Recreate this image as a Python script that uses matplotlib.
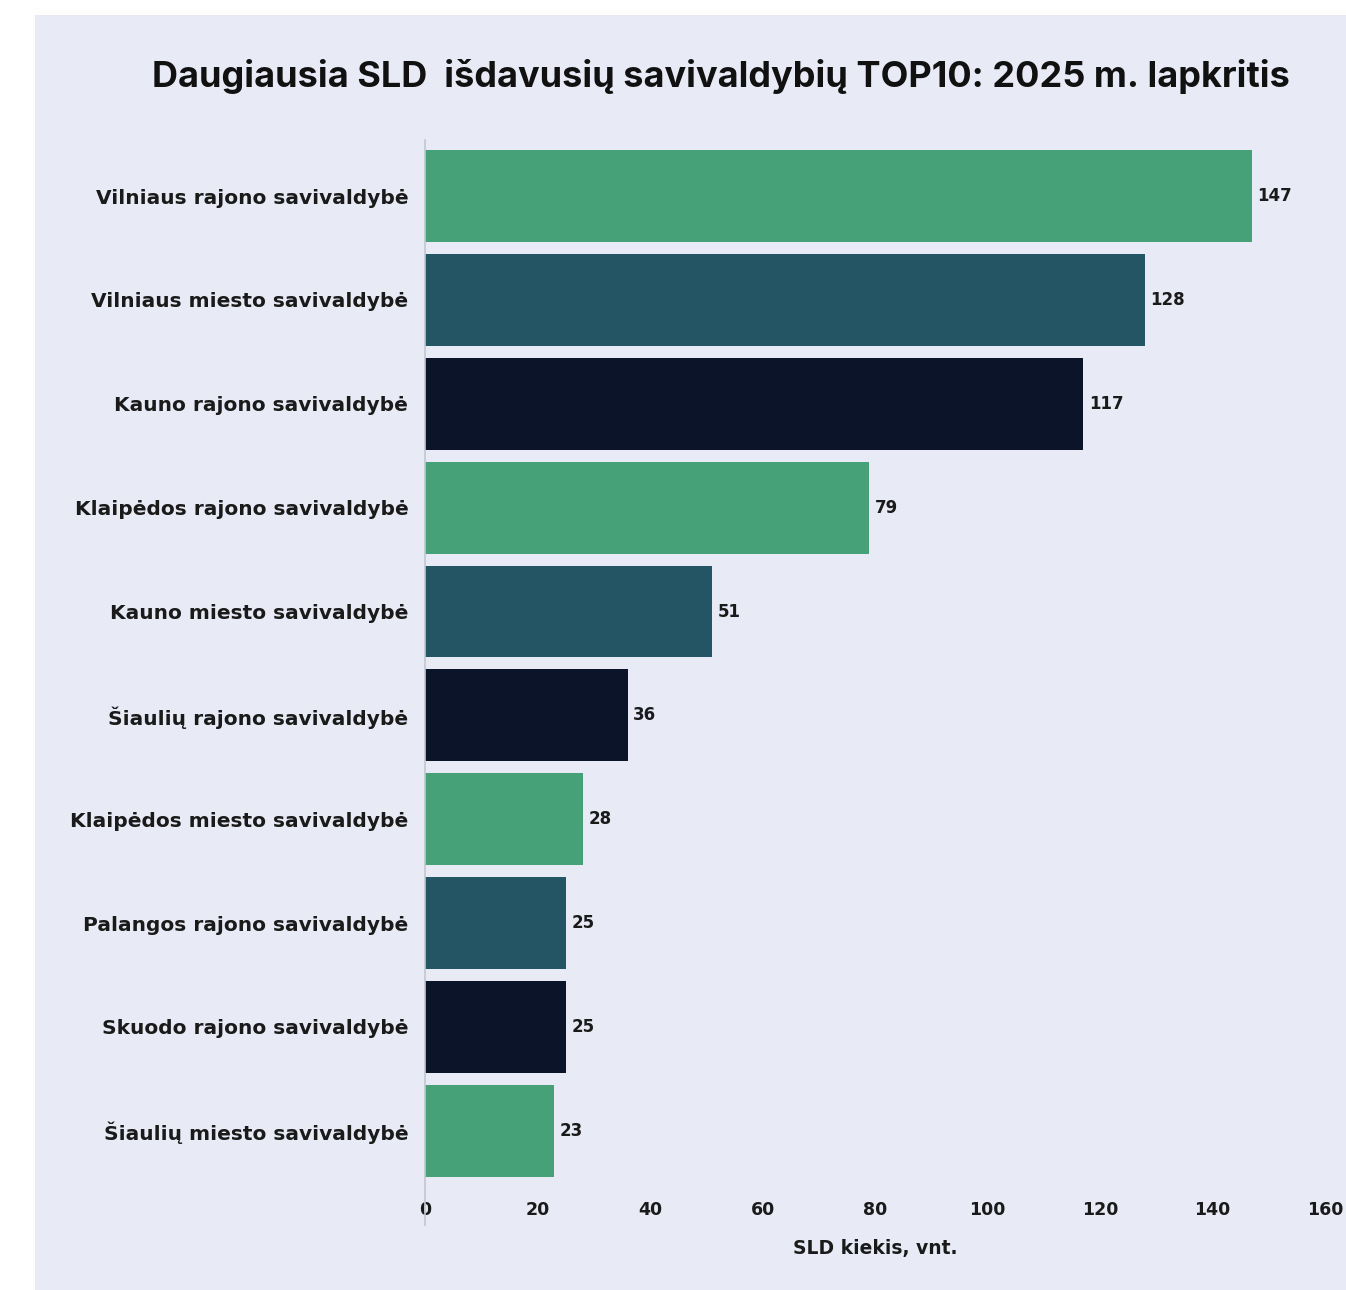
#!/usr/bin/env python3
"""TOP10 savivaldybiu pagal isduotas SLD - 2025 m. lapkritis"""

import matplotlib
matplotlib.use('Agg')
import matplotlib.pyplot as plt

# Data
municipalities = [
    'Vilniaus rajono savivaldybė',
    'Vilniaus miesto savivaldybė',
    'Kauno rajono savivaldybė',
    'Klaipėdos rajono savivaldybė',
    'Kauno miesto savivaldybė',
    'Šiaulių rajono savivaldybė',
    'Klaipėdos miesto savivaldybė',
    'Palangos rajono savivaldybė',
    'Skuodo rajono savivaldybė',
    'Šiaulių miesto savivaldybė',
]
sld_counts = [147, 128, 117, 79, 51, 36, 28, 25, 25, 23]
x_ticks = [0, 20, 40, 60, 80, 100, 120, 140, 160]

palette = ['#46A078', '#245564', '#0B1428']
bg = '#E8EBF6'
txt = '#1a1a1a'

plt.rcParams['font.family'] = ['DejaVu Sans']
plt.rcParams['font.weight'] = 'bold'

W, H = 1346, 1290
fig = plt.figure(figsize=(W / 100, H / 100), dpi=100)
fig.patch.set_facecolor('white')

# lavender panel behind everything (white strip left and top)
bg_ax = fig.add_axes([35 / W, 0, 1 - 35 / W, 1 - 15 / H], zorder=-1)
bg_ax.axis('off')
bg_ax.add_patch(plt.Rectangle((0, 0), 1, 1, transform=bg_ax.transAxes,
                              facecolor=bg, edgecolor='none'))

# axes box in pixels: left 425, right 1325, top 140, bottom 1190
ax = fig.add_axes([425 / W, 1 - 1190 / H, (1325 - 425) / W, (1190 - 140) / H])
ax.set_facecolor('none')

y = list(range(len(municipalities)))
colors = [palette[i % 3] for i in y]
ax.barh(y, sld_counts, height=0.885, color=colors, zorder=2)

for yi, v in zip(y, sld_counts):
    ax.text(v + 1.0, yi, str(v), va='center', ha='left',
            fontsize=12, fontweight='bold', color=txt)

ax.set_xlim(0, 160)
ax.set_ylim(9.57, -0.54)
ax.set_yticks(y)
ax.set_yticklabels(municipalities, fontsize=14.5, fontweight='bold', color=txt)
ax.set_xticks(x_ticks)
ax.set_xticklabels([str(t) for t in x_ticks], fontsize=12.5,
                   fontweight='bold', color=txt)
ax.tick_params(axis='both', length=0)
ax.tick_params(axis='y', pad=12)
ax.tick_params(axis='x', pad=8)

for s in ['top', 'right', 'bottom', 'left']:
    ax.spines[s].set_visible(False)
ax.axvline(0, ymin=-0.033, ymax=1, color='#c4c6cf', linewidth=1.2,
           clip_on=False, zorder=3)

ax.set_xlabel('SLD kiekis, vnt.', fontsize=13.5, fontweight='bold',
              color=txt, labelpad=14)

fig.text(721 / W, 1 - 77 / H,
         'Daugiausia SLD  išdavusių savivaldybių TOP10: 2025 m. lapkritis',
         ha='center', va='center', fontsize=26, fontweight='bold',
         color='#111111', family=['Inter', 'DejaVu Sans'])

plt.savefig('out.png', dpi=100)
